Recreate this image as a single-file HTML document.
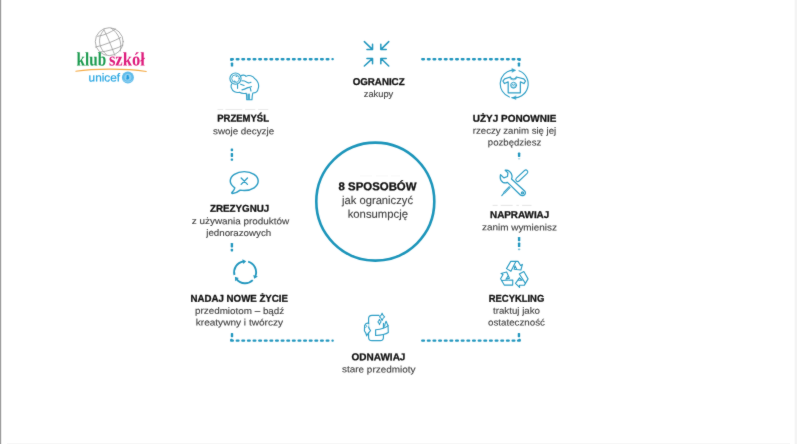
<!DOCTYPE html>
<html lang="pl">
<head>
<meta charset="utf-8">
<title>8 sposobów jak ograniczyć konsumpcję</title>
<style>
html,body{margin:0;padding:0;background:#fff;}
body{width:797px;height:444px;overflow:hidden;font-family:"Liberation Sans",sans-serif;}
svg{display:block;}
#all{filter:url(#soft);}
text{white-space:pre;text-rendering:geometricPrecision;}
</style>
</head>
<body>
<svg width="797" height="444" viewBox="0 0 797 444">
<defs><filter id="soft" x="0" y="0" width="797" height="444" filterUnits="userSpaceOnUse" color-interpolation-filters="sRGB">
<feConvolveMatrix order="3" kernelMatrix="1 3 1 3 36 3 1 3 1" divisor="52" edgeMode="duplicate" preserveAlpha="false"/></filter></defs>
<rect width="797" height="444" fill="#ffffff"/>
<g id="all">
<rect width="797" height="444" fill="#ffffff"/>
<rect x="230.00" y="58.00" width="4.0" height="2.4" rx="1.1" fill="#2196be"/>
<rect x="235.62" y="58.00" width="4.0" height="2.4" rx="1.1" fill="#2196be"/>
<rect x="241.24" y="58.00" width="4.0" height="2.4" rx="1.1" fill="#2196be"/>
<rect x="246.86" y="58.00" width="4.0" height="2.4" rx="1.1" fill="#2196be"/>
<rect x="252.48" y="58.00" width="4.0" height="2.4" rx="1.1" fill="#2196be"/>
<rect x="258.10" y="58.00" width="4.0" height="2.4" rx="1.1" fill="#2196be"/>
<rect x="263.72" y="58.00" width="4.0" height="2.4" rx="1.1" fill="#2196be"/>
<rect x="269.34" y="58.00" width="4.0" height="2.4" rx="1.1" fill="#2196be"/>
<rect x="274.96" y="58.00" width="4.0" height="2.4" rx="1.1" fill="#2196be"/>
<rect x="280.58" y="58.00" width="4.0" height="2.4" rx="1.1" fill="#2196be"/>
<rect x="286.20" y="58.00" width="4.0" height="2.4" rx="1.1" fill="#2196be"/>
<rect x="291.82" y="58.00" width="4.0" height="2.4" rx="1.1" fill="#2196be"/>
<rect x="297.44" y="58.00" width="4.0" height="2.4" rx="1.1" fill="#2196be"/>
<rect x="303.06" y="58.00" width="4.0" height="2.4" rx="1.1" fill="#2196be"/>
<rect x="308.68" y="58.00" width="4.0" height="2.4" rx="1.1" fill="#2196be"/>
<rect x="314.30" y="58.00" width="4.0" height="2.4" rx="1.1" fill="#2196be"/>
<rect x="319.92" y="58.00" width="4.0" height="2.4" rx="1.1" fill="#2196be"/>
<rect x="325.54" y="58.00" width="4.0" height="2.4" rx="1.1" fill="#2196be"/>
<rect x="331.4" y="58.05" width="2.4" height="2.3" rx="1" fill="#2196be"/>
<rect x="230.80" y="62.60" width="2.4" height="4.00" rx="0.7" fill="#2196be" opacity="1"/>
<rect x="230.2" y="59.20" width="2.4" height="1.9" rx="0.8" fill="#2196be"/>
<rect x="518.3" y="59.20" width="2.4" height="1.9" rx="0.8" fill="#2196be"/>
<rect x="421.10" y="58.00" width="4.0" height="2.4" rx="1.1" fill="#2196be"/>
<rect x="426.75" y="58.00" width="4.0" height="2.4" rx="1.1" fill="#2196be"/>
<rect x="432.40" y="58.00" width="4.0" height="2.4" rx="1.1" fill="#2196be"/>
<rect x="438.05" y="58.00" width="4.0" height="2.4" rx="1.1" fill="#2196be"/>
<rect x="443.70" y="58.00" width="4.0" height="2.4" rx="1.1" fill="#2196be"/>
<rect x="449.35" y="58.00" width="4.0" height="2.4" rx="1.1" fill="#2196be"/>
<rect x="455.00" y="58.00" width="4.0" height="2.4" rx="1.1" fill="#2196be"/>
<rect x="460.65" y="58.00" width="4.0" height="2.4" rx="1.1" fill="#2196be"/>
<rect x="466.30" y="58.00" width="4.0" height="2.4" rx="1.1" fill="#2196be"/>
<rect x="471.95" y="58.00" width="4.0" height="2.4" rx="1.1" fill="#2196be"/>
<rect x="477.60" y="58.00" width="4.0" height="2.4" rx="1.1" fill="#2196be"/>
<rect x="483.25" y="58.00" width="4.0" height="2.4" rx="1.1" fill="#2196be"/>
<rect x="488.90" y="58.00" width="4.0" height="2.4" rx="1.1" fill="#2196be"/>
<rect x="494.55" y="58.00" width="4.0" height="2.4" rx="1.1" fill="#2196be"/>
<rect x="500.20" y="58.00" width="4.0" height="2.4" rx="1.1" fill="#2196be"/>
<rect x="505.85" y="58.00" width="4.0" height="2.4" rx="1.1" fill="#2196be"/>
<rect x="511.50" y="58.00" width="4.0" height="2.4" rx="1.1" fill="#2196be"/>
<rect x="516.90" y="58.00" width="4.0" height="2.4" rx="1.1" fill="#2196be"/>
<rect x="517.75" y="62.60" width="2.4" height="4.00" rx="0.7" fill="#2196be" opacity="1"/>
<rect x="230.00" y="339.45" width="4.0" height="2.4" rx="1.1" fill="#2196be"/>
<rect x="235.62" y="339.45" width="4.0" height="2.4" rx="1.1" fill="#2196be"/>
<rect x="241.24" y="339.45" width="4.0" height="2.4" rx="1.1" fill="#2196be"/>
<rect x="246.86" y="339.45" width="4.0" height="2.4" rx="1.1" fill="#2196be"/>
<rect x="252.48" y="339.45" width="4.0" height="2.4" rx="1.1" fill="#2196be"/>
<rect x="258.10" y="339.45" width="4.0" height="2.4" rx="1.1" fill="#2196be"/>
<rect x="263.72" y="339.45" width="4.0" height="2.4" rx="1.1" fill="#2196be"/>
<rect x="269.34" y="339.45" width="4.0" height="2.4" rx="1.1" fill="#2196be"/>
<rect x="274.96" y="339.45" width="4.0" height="2.4" rx="1.1" fill="#2196be"/>
<rect x="280.58" y="339.45" width="4.0" height="2.4" rx="1.1" fill="#2196be"/>
<rect x="286.20" y="339.45" width="4.0" height="2.4" rx="1.1" fill="#2196be"/>
<rect x="291.82" y="339.45" width="4.0" height="2.4" rx="1.1" fill="#2196be"/>
<rect x="297.44" y="339.45" width="4.0" height="2.4" rx="1.1" fill="#2196be"/>
<rect x="303.06" y="339.45" width="4.0" height="2.4" rx="1.1" fill="#2196be"/>
<rect x="308.68" y="339.45" width="4.0" height="2.4" rx="1.1" fill="#2196be"/>
<rect x="314.30" y="339.45" width="4.0" height="2.4" rx="1.1" fill="#2196be"/>
<rect x="319.92" y="339.45" width="4.0" height="2.4" rx="1.1" fill="#2196be"/>
<rect x="325.54" y="339.45" width="4.0" height="2.4" rx="1.1" fill="#2196be"/>
<rect x="331.4" y="339.50" width="2.4" height="2.3" rx="1" fill="#2196be"/>
<rect x="230.80" y="333.00" width="2.4" height="4.20" rx="0.7" fill="#2196be" opacity="1"/>
<rect x="230.2" y="338.75" width="2.4" height="1.9" rx="0.8" fill="#2196be"/>
<rect x="518.3" y="338.75" width="2.4" height="1.9" rx="0.8" fill="#2196be"/>
<rect x="421.10" y="339.45" width="4.0" height="2.4" rx="1.1" fill="#2196be"/>
<rect x="426.75" y="339.45" width="4.0" height="2.4" rx="1.1" fill="#2196be"/>
<rect x="432.40" y="339.45" width="4.0" height="2.4" rx="1.1" fill="#2196be"/>
<rect x="438.05" y="339.45" width="4.0" height="2.4" rx="1.1" fill="#2196be"/>
<rect x="443.70" y="339.45" width="4.0" height="2.4" rx="1.1" fill="#2196be"/>
<rect x="449.35" y="339.45" width="4.0" height="2.4" rx="1.1" fill="#2196be"/>
<rect x="455.00" y="339.45" width="4.0" height="2.4" rx="1.1" fill="#2196be"/>
<rect x="460.65" y="339.45" width="4.0" height="2.4" rx="1.1" fill="#2196be"/>
<rect x="466.30" y="339.45" width="4.0" height="2.4" rx="1.1" fill="#2196be"/>
<rect x="471.95" y="339.45" width="4.0" height="2.4" rx="1.1" fill="#2196be"/>
<rect x="477.60" y="339.45" width="4.0" height="2.4" rx="1.1" fill="#2196be"/>
<rect x="483.25" y="339.45" width="4.0" height="2.4" rx="1.1" fill="#2196be"/>
<rect x="488.90" y="339.45" width="4.0" height="2.4" rx="1.1" fill="#2196be"/>
<rect x="494.55" y="339.45" width="4.0" height="2.4" rx="1.1" fill="#2196be"/>
<rect x="500.20" y="339.45" width="4.0" height="2.4" rx="1.1" fill="#2196be"/>
<rect x="505.85" y="339.45" width="4.0" height="2.4" rx="1.1" fill="#2196be"/>
<rect x="511.50" y="339.45" width="4.0" height="2.4" rx="1.1" fill="#2196be"/>
<rect x="516.90" y="339.45" width="4.0" height="2.4" rx="1.1" fill="#2196be"/>
<rect x="517.75" y="333.00" width="2.4" height="4.20" rx="0.7" fill="#2196be" opacity="1"/>
<rect x="230.70" y="148.40" width="2.4" height="2.80" rx="0.7" fill="#2196be" opacity="1"/><rect x="230.70" y="153.00" width="2.4" height="3.90" rx="0.7" fill="#2196be" opacity="1"/><rect x="230.70" y="158.40" width="2.4" height="2.40" rx="0.7" fill="#2196be" opacity="1"/>
<rect x="230.70" y="242.90" width="2.4" height="4.50" rx="0.7" fill="#2196be" opacity="1"/><rect x="230.70" y="248.70" width="2.4" height="2.80" rx="0.7" fill="#2196be" opacity="1"/>
<rect x="517.90" y="152.60" width="2.4" height="4.40" rx="0.7" fill="#2196be" opacity="1"/><rect x="517.90" y="158.00" width="2.4" height="1.50" rx="0.7" fill="#2196be" opacity="0.35"/>
<rect x="517.90" y="236.90" width="2.4" height="4.40" rx="0.7" fill="#2196be" opacity="1"/><rect x="517.90" y="242.60" width="2.4" height="4.50" rx="0.7" fill="#2196be" opacity="1"/><rect x="517.90" y="248.40" width="2.4" height="1.80" rx="0.7" fill="#2196be" opacity="0.6"/>
<circle cx="375.3" cy="201.6" r="59" fill="#fff" stroke="#1c95ba" stroke-width="2.6"/>
<text transform="rotate(0.04 377.6 190.2)" x="338.60" y="190.20" textLength="77.90" lengthAdjust="spacingAndGlyphs" font-family='"Liberation Sans", sans-serif' font-size="11.4" font-weight="700" fill="#111111" stroke="#111111" stroke-width="0.3" stroke-linejoin="round" >8 SPOSOBÓW</text>
<text transform="rotate(0.04 377.5 204.1)" x="342.00" y="204.10" textLength="71.00" lengthAdjust="spacingAndGlyphs" font-family='"Liberation Sans", sans-serif' font-size="11.3" font-weight="400" fill="#404040" stroke="#404040" stroke-width="0.12" stroke-linejoin="round" >jak ograniczyć</text>
<text transform="rotate(0.04 377.9 217.8)" x="347.70" y="217.80" textLength="60.30" lengthAdjust="spacingAndGlyphs" font-family='"Liberation Sans", sans-serif' font-size="11.3" font-weight="400" fill="#404040" stroke="#404040" stroke-width="0.12" stroke-linejoin="round" >konsumpcję</text>
<text transform="rotate(0.04 378.6 85.0)" x="352.70" y="85.00" textLength="51.90" lengthAdjust="spacingAndGlyphs" font-family='"Liberation Sans", sans-serif' font-size="9.9" font-weight="700" fill="#111111" stroke="#111111" stroke-width="0.3" stroke-linejoin="round" >OGRANICZ</text>
<text transform="rotate(0.04 378.5 96.9)" x="363.75" y="96.90" textLength="29.50" lengthAdjust="spacingAndGlyphs" font-family='"Liberation Sans", sans-serif' font-size="9.2" font-weight="400" fill="#404040" stroke="#404040" stroke-width="0.12" stroke-linejoin="round" >zakupy</text>
<text transform="rotate(0.04 243.1 121.5)" x="217.20" y="121.50" textLength="51.80" lengthAdjust="spacingAndGlyphs" font-family='"Liberation Sans", sans-serif' font-size="9.9" font-weight="700" fill="#111111" stroke="#111111" stroke-width="0.3" stroke-linejoin="round" >PRZEMYŚL</text>
<text transform="rotate(0.04 243.6 134.2)" x="213.00" y="134.20" textLength="61.10" lengthAdjust="spacingAndGlyphs" font-family='"Liberation Sans", sans-serif' font-size="9.2" font-weight="400" fill="#404040" stroke="#404040" stroke-width="0.12" stroke-linejoin="round" >swoje decyzje</text>
<text transform="rotate(0.04 239.6 211.8)" x="210.00" y="211.75" textLength="59.25" lengthAdjust="spacingAndGlyphs" font-family='"Liberation Sans", sans-serif' font-size="9.9" font-weight="700" fill="#111111" stroke="#111111" stroke-width="0.3" stroke-linejoin="round" >ZREZYGNUJ</text>
<text transform="rotate(0.04 240.5 224.2)" x="191.75" y="224.15" textLength="97.50" lengthAdjust="spacingAndGlyphs" font-family='"Liberation Sans", sans-serif' font-size="9.2" font-weight="400" fill="#404040" stroke="#404040" stroke-width="0.12" stroke-linejoin="round" >z używania produktów</text>
<text transform="rotate(0.04 238.8 235.9)" x="206.25" y="235.90" textLength="65.00" lengthAdjust="spacingAndGlyphs" font-family='"Liberation Sans", sans-serif' font-size="9.2" font-weight="400" fill="#404040" stroke="#404040" stroke-width="0.12" stroke-linejoin="round" >jednorazowych</text>
<text transform="rotate(0.04 239.2 301.8)" x="190.50" y="301.75" textLength="97.50" lengthAdjust="spacingAndGlyphs" font-family='"Liberation Sans", sans-serif' font-size="9.9" font-weight="700" fill="#111111" stroke="#111111" stroke-width="0.3" stroke-linejoin="round" >NADAJ NOWE ŻYCIE</text>
<text transform="rotate(0.04 239.6 313.9)" x="195.00" y="313.90" textLength="89.25" lengthAdjust="spacingAndGlyphs" font-family='"Liberation Sans", sans-serif' font-size="9.2" font-weight="400" fill="#404040" stroke="#404040" stroke-width="0.12" stroke-linejoin="round" >przedmiotom – bądź</text>
<text transform="rotate(0.04 239.4 325.5)" x="195.75" y="325.55" textLength="87.25" lengthAdjust="spacingAndGlyphs" font-family='"Liberation Sans", sans-serif' font-size="9.2" font-weight="400" fill="#404040" stroke="#404040" stroke-width="0.12" stroke-linejoin="round" >kreatywny i twórczy</text>
<text transform="rotate(0.04 378.5 360.4)" x="351.60" y="360.35" textLength="53.80" lengthAdjust="spacingAndGlyphs" font-family='"Liberation Sans", sans-serif' font-size="9.9" font-weight="700" fill="#111111" stroke="#111111" stroke-width="0.3" stroke-linejoin="round" >ODNAWIAJ</text>
<text transform="rotate(0.04 378.8 372.4)" x="342.00" y="372.40" textLength="73.50" lengthAdjust="spacingAndGlyphs" font-family='"Liberation Sans", sans-serif' font-size="9.2" font-weight="400" fill="#404040" stroke="#404040" stroke-width="0.12" stroke-linejoin="round" >stare przedmioty</text>
<text transform="rotate(0.04 514.5 121.7)" x="472.80" y="121.70" textLength="83.50" lengthAdjust="spacingAndGlyphs" font-family='"Liberation Sans", sans-serif' font-size="9.9" font-weight="700" fill="#111111" stroke="#111111" stroke-width="0.3" stroke-linejoin="round" >UŻYJ PONOWNIE</text>
<text transform="rotate(0.04 514.5 133.8)" x="472.80" y="133.80" textLength="83.45" lengthAdjust="spacingAndGlyphs" font-family='"Liberation Sans", sans-serif' font-size="9.2" font-weight="400" fill="#404040" stroke="#404040" stroke-width="0.12" stroke-linejoin="round" >rzeczy zanim się jej</text>
<text transform="rotate(0.04 514.5 145.4)" x="487.80" y="145.40" textLength="53.45" lengthAdjust="spacingAndGlyphs" font-family='"Liberation Sans", sans-serif' font-size="9.2" font-weight="400" fill="#404040" stroke="#404040" stroke-width="0.12" stroke-linejoin="round" >pozbędziesz</text>
<text transform="rotate(0.04 519.6 218.0)" x="490.00" y="218.00" textLength="59.25" lengthAdjust="spacingAndGlyphs" font-family='"Liberation Sans", sans-serif' font-size="9.9" font-weight="700" fill="#111111" stroke="#111111" stroke-width="0.3" stroke-linejoin="round" >NAPRAWIAJ</text>
<text transform="rotate(0.04 519.5 230.4)" x="482.00" y="230.40" textLength="75.00" lengthAdjust="spacingAndGlyphs" font-family='"Liberation Sans", sans-serif' font-size="9.2" font-weight="400" fill="#404040" stroke="#404040" stroke-width="0.12" stroke-linejoin="round" >zanim wymienisz</text>
<text transform="rotate(0.04 516.5 301.8)" x="488.75" y="301.75" textLength="55.50" lengthAdjust="spacingAndGlyphs" font-family='"Liberation Sans", sans-serif' font-size="9.9" font-weight="700" fill="#111111" stroke="#111111" stroke-width="0.3" stroke-linejoin="round" >RECYKLING</text>
<text transform="rotate(0.04 516.5 313.7)" x="493.00" y="313.70" textLength="47.00" lengthAdjust="spacingAndGlyphs" font-family='"Liberation Sans", sans-serif' font-size="9.2" font-weight="400" fill="#404040" stroke="#404040" stroke-width="0.12" stroke-linejoin="round" >traktuj jako</text>
<text transform="rotate(0.04 516.5 325.5)" x="488.00" y="325.55" textLength="57.00" lengthAdjust="spacingAndGlyphs" font-family='"Liberation Sans", sans-serif' font-size="9.2" font-weight="400" fill="#404040" stroke="#404040" stroke-width="0.12" stroke-linejoin="round" >ostateczność</text>
<rect x="217.5" y="109.20" width="5.60" height="0.8" fill="#e4e4e4"/><rect x="225.4" y="109.20" width="16.90" height="0.8" fill="#e4e4e4"/><rect x="245.1" y="109.20" width="10.20" height="0.8" fill="#e4e4e4"/><rect x="258.1" y="109.20" width="10.20" height="0.8" fill="#e4e4e4"/>
<rect x="492.6" y="204.90" width="5.00" height="0.8" fill="#dcdcdc"/><rect x="500.7" y="204.90" width="12.00" height="0.8" fill="#dcdcdc"/><rect x="516.4" y="204.90" width="2.50" height="0.8" fill="#dcdcdc"/><rect x="522.1" y="204.90" width="9.40" height="0.8" fill="#dcdcdc"/>
<rect x="360" y="175.50" width="12.00" height="0.8" fill="#f5f5f5"/><rect x="376" y="175.50" width="12.00" height="0.8" fill="#f5f5f5"/><rect x="391" y="175.50" width="9.00" height="0.8" fill="#f5f5f5"/>
<g transform="translate(352 32) scale(0.09009)" fill="none" stroke="#2397be" stroke-width="16.7" stroke-linecap="round" stroke-linejoin="round" ><path d="M137 107 L226 193 M166 195 H228 V136 M408 107 L322 193 M380 195 H320 V136 M137 378 L226 295 M166 293 H228 V352 M408 378 L322 295 M380 293 H320 V352"/></g>
<g transform="translate(219 66) scale(0.09009)" fill="none" stroke="#2f9fc6" stroke-width="12.5" stroke-linecap="round" stroke-linejoin="round" ><circle cx="183" cy="140" r="62"/><circle cx="183" cy="140" r="42" stroke-width="10"/><path d="M188 111 L199 116 M168 167 L180 172" stroke-width="12"/><path d="M238 112 C260 95 290 100 300 115 C330 95 380 110 395 140 C430 160 450 210 435 250 C430 285 400 300 375 300 C370 320 366 350 366 374 L308 374 C308 350 308 320 302 302 C270 310 240 300 225 292 C190 300 150 282 140 248 C130 228 135 210 140 200"/><path d="M255 165 C280 160 300 175 320 185 C335 190 345 185 355 180 M255 265 C280 260 300 250 320 240 C335 235 350 240 360 230 M345 235 L355 278 M206 205 L206 248 M240 202 L278 216 M322 312 L322 370 M336 312 L336 370"/></g>
<g transform="translate(219 164) scale(0.09009)" fill="none" stroke="#2a9cc3" stroke-width="15.9" stroke-linecap="round" stroke-linejoin="round" ><path d="M175 265 C140 240 125 215 125 190 C125 130 195 85 280 85 C365 85 435 130 435 190 C435 250 365 295 280 295 C265 295 250 293 235 290 C210 310 180 325 150 328 C140 328 140 320 145 315 C160 300 172 285 175 265 Z"/><path d="M246 156 L316 226 M316 156 L246 226" stroke-width="15"/></g>
<g transform="translate(219 252) scale(0.09009)" fill="none" stroke="#2397be" stroke-width="21.0" stroke-linecap="butt" stroke-linejoin="round" ><path d="M171.6 254.5 A122 122 0 0 1 268.8 104.9"/><path d="M302.6 101.7 L259.0 79.3 L270.2 132.1 Z" fill="#2397be" stroke="none"/><path d="M323.6 107.7 A122 122 0 0 1 404.6 266.7"/><path d="M390.5 297.6 L431.7 271.0 L380.4 254.4 Z" fill="#2397be" stroke="none"/><path d="M374.7 312.8 A122 122 0 0 1 196.5 303.4"/><path d="M176.9 275.7 L179.3 324.7 L219.4 288.6 Z" fill="#2397be" stroke="none"/></g>
<g transform="translate(352 307) scale(0.09009)" fill="none" stroke="#2f9fc6" stroke-width="12.8" stroke-linecap="round" stroke-linejoin="round" ><path d="M300 93 L222 93 C198 93 184 108 184 130 L184 335 C184 358 198 373 222 373 L312 373 C336 373 349 358 349 335 L349 310 M349 232 L349 180"/><path d="M262 252 C310 248 370 236 400 207 L403 282 C370 305 310 313 262 316 Z" fill="#fff"/><path d="M186 182 C172 176 150 182 140 205 L138 265 C150 278 158 300 163 320 C172 300 188 280 206 262 C195 250 188 238 184 222" fill="#fff"/><path d="M150 200 L166 212 M150 226 L162 218" stroke-width="9"/><path d="M334 68 Q342.7 96.7 363 109 Q342.7 121.3 334 150 Q325.3 121.3 305 109 Q325.3 96.7 334 68 Z" fill="#fff" stroke-width="11.5"/><path d="M305 135 Q310.4 156.7 323 166 Q310.4 175.3 305 197 Q299.6 175.3 287 166 Q299.6 156.7 305 135 Z" fill="#fff" stroke-width="11.5"/><path d="M362 214 L366 190 L378 158 L390 186 L400 206" /></g>
<g transform="translate(489 64) scale(0.09009)" fill="none" stroke="#2f9fc6" stroke-width="11.6" stroke-linecap="round" stroke-linejoin="round" ><path d="M333.0 75.3 A155 155 0 0 1 253.1 373.6" stroke-width="12.5"/><path d="M227.0 366.7 A155 155 0 0 1 258.4 67.5" stroke-width="12.5"/><path d="M256 50 L298 70 L258 92 Z M298 354 L258 374 L296 394 Z" fill="#2f9fc6" stroke-width="4"/><path d="M236 144 C246 174 296 174 304 144 L386 165 L406 189 L388 217 L348 199 L348 320 L213 320 L213 199 L172 217 L154 189 L174 165 Z" stroke-width="13.5"/><path d="M224 150 C240 186 300 186 316 150" stroke-width="7"/><circle cx="273" cy="236" r="33" stroke-width="10.5" fill="#e4f3f9"/><path d="M252 244 C250 226 264 218 272 238 C280 216 298 222 292 246 M258 258 C268 262 282 262 290 254" stroke-width="9"/></g>
<g transform="translate(489 163) scale(0.09009)" fill="none" stroke="#2d9dc4" stroke-width="13.9" stroke-linecap="round" stroke-linejoin="round" ><path d="M180 80 C215 75 250 100 255 140 C257 155 255 165 250 178 L395 310 C410 325 405 350 385 360 C370 365 355 362 345 352 L205 215 C190 222 170 222 155 215 C130 200 120 165 128 130 L165 165 L205 150 L210 110 Z"/><circle cx="372" cy="332" r="12"/><path d="M319 184 L409 99" stroke-width="55"/><path d="M319 184 L409 99" stroke="#fff" stroke-width="31"/><path d="M232 264 L166 334" stroke-width="24" stroke-linecap="butt"/><path d="M170 330 L142 362" stroke-width="13"/><path d="M226 270 L172 328" stroke="#d9eef6" stroke-width="5"/></g>
<g fill="none" stroke="#2a9cc3" stroke-width="33" stroke-linejoin="round" stroke-linecap="round"><g transform="translate(504 259) scale(0.03378)"><path d="M75 285 L200 70 L355 70 L205 365 Z"/><path d="M355 70 L415 70 L490 195 L545 160 L500 325 L300 305 L325 200 L375 300"/></g><g transform="rotate(120 514.35 275.1)"><g transform="translate(504 259) scale(0.03378)"><path d="M75 285 L200 70 L355 70 L205 365 Z"/><path d="M355 70 L415 70 L490 195 L545 160 L500 325 L300 305 L325 200 L375 300"/></g></g><g transform="rotate(240 514.35 275.1)"><g transform="translate(504 259) scale(0.03378)"><path d="M75 285 L200 70 L355 70 L205 365 Z"/><path d="M355 70 L415 70 L490 195 L545 160 L500 325 L300 305 L325 200 L375 300"/></g></g></g>
<g transform="translate(88 24) scale(0.08108)" fill="none" stroke="#999999" stroke-width="10" stroke-linecap="round"><circle cx="262" cy="218" r="172"/><path d="M200 72 C118 150 118 290 228 378 M195 70 C232 140 282 260 332 388 M285 50 C375 110 425 220 398 335"/><path d="M118 152 C200 142 280 102 338 62 M93 285 C200 260 320 212 402 168 M140 347 C240 340 360 302 432 262"/></g>
<text transform="rotate(0.04 91.3 65.6)" x="76.50" y="65.60" textLength="29.60" lengthAdjust="spacingAndGlyphs" font-family='"Liberation Serif", serif' font-size="19.2" font-weight="700" fill="#1a9a4e" stroke="#1a9a4e" stroke-width="0" stroke-linejoin="round" >klub</text>
<text transform="rotate(0.04 126.9 65.5)" x="108.90" y="65.55" textLength="36.00" lengthAdjust="spacingAndGlyphs" font-family='"Liberation Serif", serif' font-size="19.2" font-weight="700" fill="#de1b7c" stroke="#de1b7c" stroke-width="0" stroke-linejoin="round" >szkół</text>
<path d="M75.8 71.2 C95 68.4 125 68.4 146.3 71.5" fill="none" stroke="#f5ab46" stroke-width="1.05" stroke-linecap="round"/>
<text transform="rotate(0.04 104.3 81.4)" x="88.60" y="81.40" textLength="31.50" lengthAdjust="spacingAndGlyphs" font-family='"Liberation Sans", sans-serif' font-size="11.6" font-weight="400" fill="#27a5e1" stroke="#27a5e1" stroke-width="0.2" stroke-linejoin="round" >unicef</text>
<circle cx="127.9" cy="77.4" r="6.0" fill="#5fbbea"/><circle cx="127.9" cy="77.3" r="3.5" fill="#8fd0f1"/><path d="M126.6 75.6 C127.6 74.6 129.2 75.2 128.6 76.6 C129.8 77.4 129.2 79.4 127.8 79.6 C126.4 79.8 125.8 78.2 126.6 77.4 Z" fill="#1f9bdf"/><path d="M123.0 79.6 C124.4 82.6 131.4 82.6 132.8 79.6" fill="none" stroke="#a6daf4" stroke-width="0.7"/>
</g>
<rect x="0" y="0" width="1" height="444" fill="#a2a2a2"/><rect x="1" y="0" width="1" height="444" fill="#e9e9e9"/><rect x="795" y="0" width="2" height="444" fill="#f4f4f4"/><rect x="794" y="0" width="1" height="444" fill="#fbfbfb"/><rect x="7" y="443" width="783" height="1" fill="#f7f7f7"/>
</svg>
</body>
</html>
